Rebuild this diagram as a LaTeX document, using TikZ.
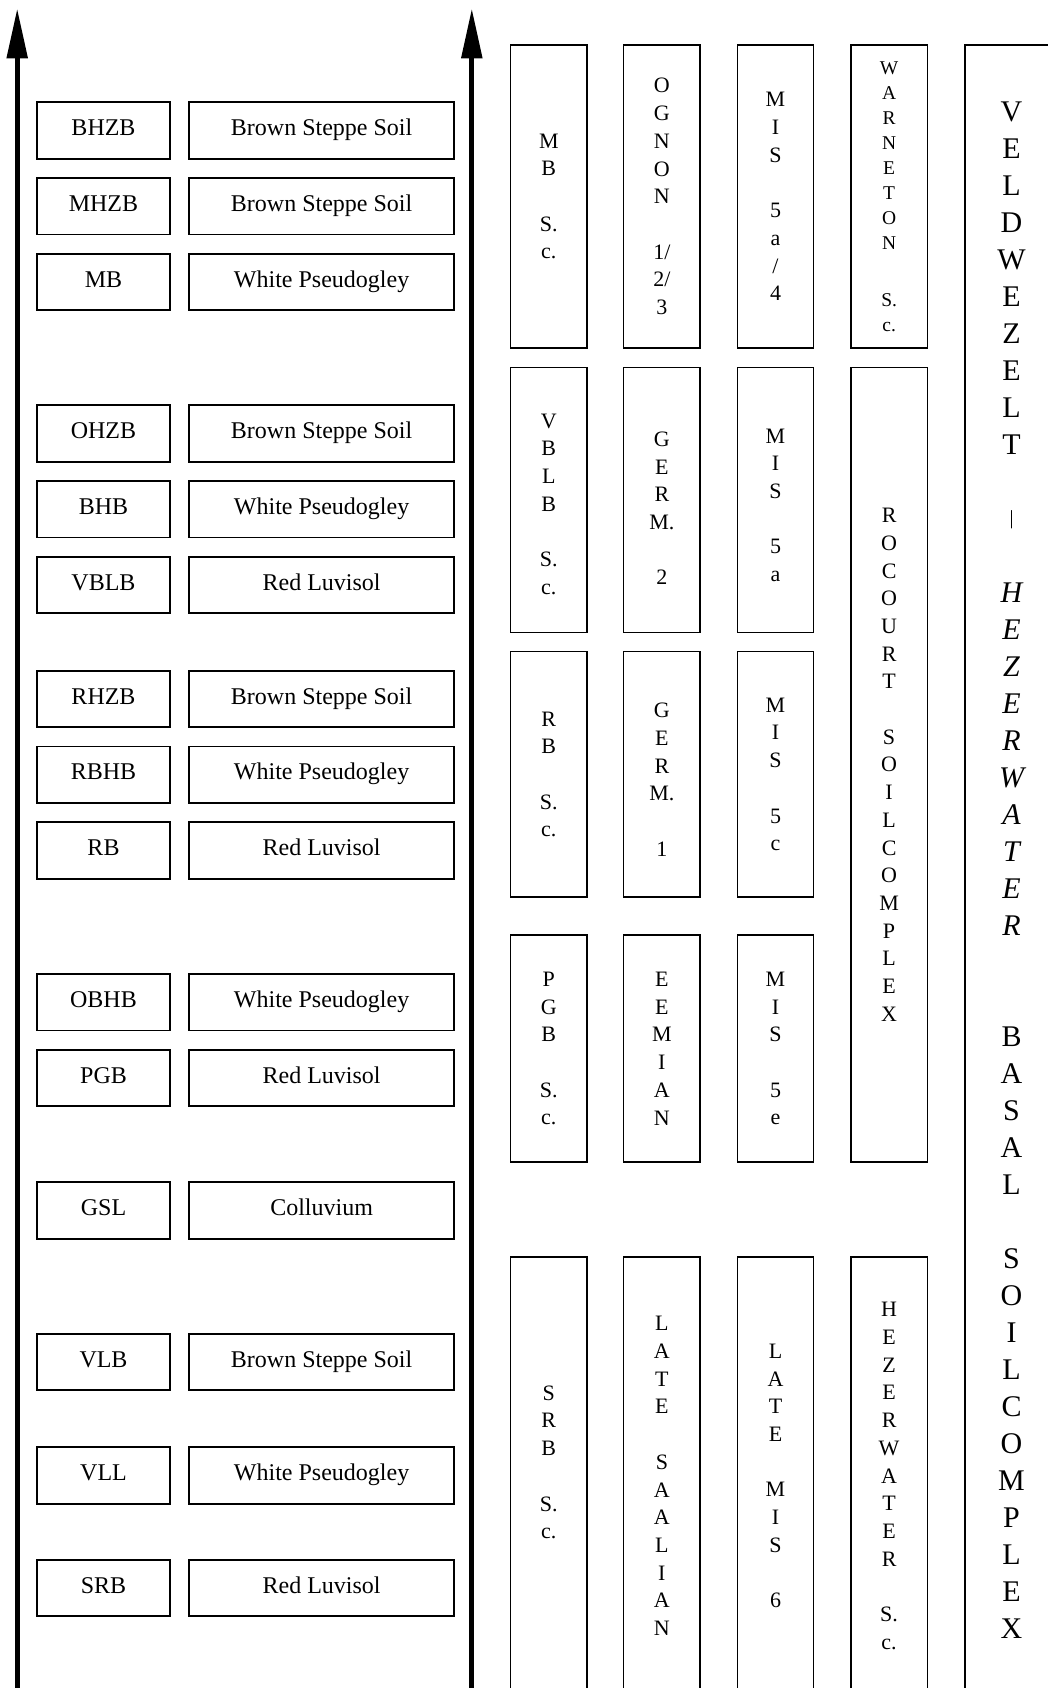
\documentclass[tikz,border=0pt]{standalone}
\usepackage{fontspec}
\setmainfont{Liberation Serif}
\usetikzlibrary{arrows.meta}
\begin{document}
\begin{tikzpicture}[x=1pt,y=-1pt,
  lbox/.style={draw,line width=1.8pt,inner sep=0pt,minimum height=56.4pt,
    text height=15.9pt,text depth=5.2pt,font=\fontsize{24}{28}\selectfont},
  smallbox/.style={lbox,minimum width=132.4pt},
  widebox/.style={lbox,minimum width=264.8pt},
  cbox/.style={draw,line width=1.5pt,inner sep=0pt,align=center,
    minimum width=76.4pt,font=\fontsize{22}{27.7}\selectfont},
  ctext/.style={inner sep=0pt,align=center,font=\fontsize{22}{27.7}\selectfont},
  axisline/.style={line width=5.3pt,-{Triangle[length=50pt,width=20pt]}}]
\useasboundingbox (0,0) rectangle (1048,1688);
\clip (0,0) rectangle (1048,1688);
% axes
\coordinate (la0) at (17.2,1700);
\coordinate (la1) at (17.2,8.3);
\coordinate (ra0) at (471.8,1700);
\coordinate (ra1) at (471.8,8.3);
\draw[axisline] (la0) -- (la1);
\draw[axisline] (ra0) -- (ra1);
% left table
\foreach \n/\y/\a/\b in {
  1/130.5/BHZB/Brown Steppe Soil,
  2/206.3/MHZB/Brown Steppe Soil,
  3/282.1/MB/White Pseudogley,
  4/433.5/OHZB/Brown Steppe Soil,
  5/509.3/BHB/White Pseudogley,
  6/585.1/VBLB/Red Luvisol,
  7/698.8/RHZB/Brown Steppe Soil,
  8/774.6/RBHB/White Pseudogley,
  9/850.4/RB/Red Luvisol,
  10/1002.2/OBHB/White Pseudogley,
  11/1078/PGB/Red Luvisol,
  12/1210.4/GSL/Colluvium,
  13/1362/VLB/Brown Steppe Soil,
  14/1475.4/VLL/White Pseudogley,
  15/1588/SRB/Red Luvisol}{
  \node[smallbox] (s\n) at (103.5,\y) {\a};
  \node[widebox] (w\n) at (321.6,\y) {\b};
}
% row 1
\node[cbox,minimum height=302.7pt] (c11) at (548.8,196.55) {M\\B\\~\\S.\\c.};
\node[cbox,minimum height=302.7pt] (c12) at (661.9,196.55) {O\\G\\N\\O\\N\\~\\1/\\2/\\3};
\node[cbox,minimum height=302.7pt] (c13) at (775.5,196.55) {M\\I\\S\\~\\5\\a\\/\\4};
\node[cbox,minimum height=302.7pt,font=\fontsize{19.5}{25}\selectfont] (c14) at (889.1,196.55) {W\\A\\R\\N\\E\\T\\O\\N\\[6.5pt]~\\S.\\c.};
% row 2
\node[cbox,minimum height=265pt] (c21) at (548.8,499.8) {};
\node[ctext] (t21) at ([yshift=-4.3pt]c21.center) {V\\B\\L\\B\\~\\S.\\c.};
\node[cbox,minimum height=265pt] (c22) at (661.9,499.8) {};
\node[ctext] (t22) at ([yshift=-8.6pt]c22.center) {G\\E\\R\\M.\\~\\2};
\node[cbox,minimum height=265pt] (c23) at (775.5,499.8) {};
\node[ctext] (t23) at ([yshift=-5.4pt]c23.center) {M\\I\\S\\~\\5\\a};
% row 3
\node[cbox,minimum height=245.6pt] (c31) at (548.8,774.4) {R\\B\\~\\S.\\c.};
\node[cbox,minimum height=245.6pt] (c32) at (661.9,774.4) {};
\node[ctext] (t32) at ([yshift=-5.4pt]c32.center) {G\\E\\R\\M.\\~\\1};
\node[cbox,minimum height=245.6pt] (c33) at (775.5,774.4) {M\\I\\S\\~\\5\\c};
% rocourt
\node[cbox,minimum height=794.9pt] (c24) at (889.1,764.75) {R\\O\\C\\O\\U\\R\\T\\~\\S\\O\\I\\L\\C\\O\\M\\P\\L\\E\\X};
% row 4
\node[cbox,minimum height=227.3pt] (c41) at (548.8,1048.55) {P\\G\\B\\~\\S.\\c.};
\node[cbox,minimum height=227.3pt] (c42) at (661.9,1048.55) {E\\E\\M\\I\\A\\N};
\node[cbox,minimum height=227.3pt] (c43) at (775.5,1048.55) {M\\I\\S\\~\\5\\e};
% row 5
\node[cbox,minimum height=438pt] (c51) at (548.8,1476) {S\\R\\B\\~\\S.\\c.\\~};
\node[cbox,minimum height=438pt] (c52) at (661.9,1476) {L\\A\\T\\E\\~\\S\\A\\A\\L\\I\\A\\N};
\node[cbox,minimum height=438pt] (c53) at (775.5,1476) {L\\A\\T\\E\\~\\M\\I\\S\\~\\6};
\node[cbox,minimum height=438pt] (c54) at (889.1,1476) {H\\E\\Z\\E\\R\\W\\A\\T\\E\\R\\~\\S.\\c.};
% column 5
\node[cbox,minimum width=92.9pt,minimum height=1650pt,font=\fontsize{30}{37}\selectfont] (c5) at (1011.55,870)
 {V\\E\\L\\D\\W\\E\\Z\\E\\L\\T\\~\\{\fontsize{20}{37}\selectfont\raisebox{4pt}{|}}\\~\\
  {\itshape H}\\{\itshape E}\\{\itshape Z}\\{\itshape E}\\{\itshape R}\\{\itshape W}\\{\itshape A}\\{\itshape T}\\{\itshape E}\\{\itshape R}\\~\\~\\
  B\\A\\S\\A\\L\\~\\S\\O\\I\\L\\C\\O\\M\\P\\L\\E\\X};
\end{tikzpicture}
\end{document}
